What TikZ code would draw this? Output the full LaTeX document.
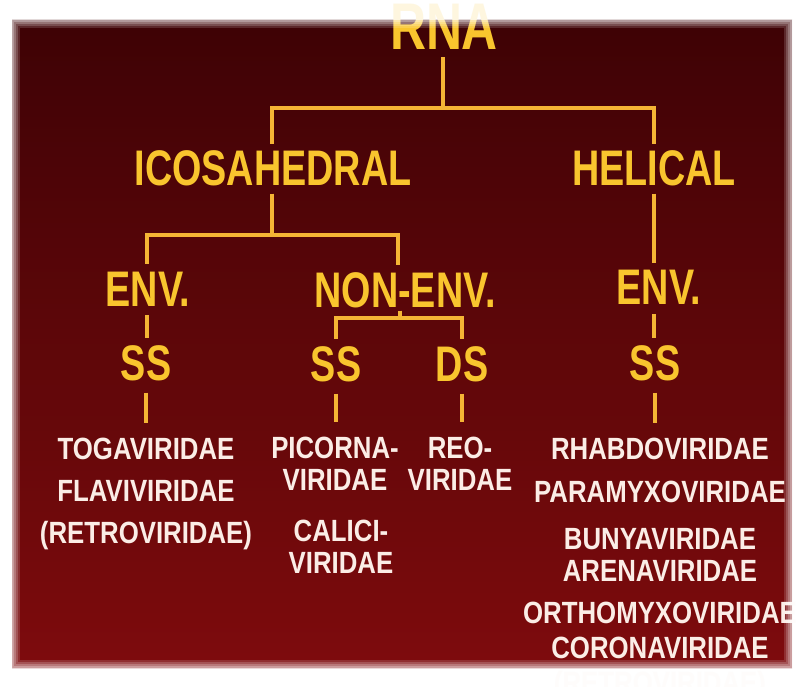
\documentclass[tikz,border=0pt]{standalone}
\usepackage{fontspec}
\newfontfamily\headfont{Liberation Sans}[FakeStretch=0.755]
\newfontfamily\famfont{Liberation Sans}[FakeStretch=0.84]
\usetikzlibrary{positioning,calc}
\definecolor{rna-bgtop}{HTML}{3E0205}
\definecolor{rna-bgbot}{HTML}{7E0B0D}
\definecolor{rna-yellow}{HTML}{F9C52E}
\definecolor{rna-line}{HTML}{F5B535}
\definecolor{rna-white}{HTML}{FBEDE6}

\begin{document}
\begin{tikzpicture}[
    x=1pt, y=-1pt,
    head/.style={font=\headfont\bfseries\fontsize{50}{60}\selectfont, text=rna-yellow, inner sep=0pt, anchor=base},
    fam/.style={font=\famfont\bfseries\fontsize{30.7}{42}\selectfont, text=rna-white, inner sep=0pt, anchor=north, align=center},
    famtight/.style={fam, font=\famfont\bfseries\fontsize{30.7}{32}\selectfont},
    link/.style={draw=rna-line, line width=3.4pt, shorten <=7pt, shorten >=7pt}
  ]
  \useasboundingbox (0,0) rectangle (798,687);
  \fill[white] (0,0) rectangle (798,687);
  \shade[top color=rna-bgtop, bottom color=rna-bgbot] (12,20) rectangle (792,668);

  % levels of the tree
  \node[head, font=\headfont\bfseries\fontsize{66}{72}\selectfont] (rna) at (444,50) {RNA};
  \node[head] (icosa)   at (273,186) {ICOSAHEDRAL};
  \node[head] (helical) at (654,186) {HELICAL};
  \node[head] (envl)    at (148,306) {ENV.};
  \node[head] (nonenv)  at (405,307) {NON-ENV.};
  \node[head] (envr)    at (659,305) {ENV.};
  \node[head] (ssl)     at (146,380) {SS};
  \node[head] (ssm)     at (336,381) {SS};
  \node[head] (dsm)     at (462,381) {DS};
  \node[head] (ssr)     at (655,380) {SS};

  % virus families
  \node[fam] (toga) at (146,438) {TOGAVIRIDAE\\FLAVIVIRIDAE\\(RETROVIRIDAE)};
  \node[famtight] (picorna) at (335,437) {PICORNA-\\VIRIDAE};
  \node[famtight] (reo)     at (460,437) {REO-\\VIRIDAE};
  \node[famtight] (calici)  at (341,520) {CALICI-\\VIRIDAE};
  \node[famtight] (rhabdo)  at (660,438) {RHABDOVIRIDAE\\[11pt]PARAMYXOVIRIDAE\\[15pt]BUNYAVIRIDAE\\ARENAVIRIDAE\\[10pt]ORTHOMYXOVIRIDAE\\[3pt]CORONAVIRIDAE\\[3pt](RETROVIRIDAE)};

  % connections
  \coordinate (lvl1) at (0,108);
  \coordinate (lvl2) at (0,235);
  \coordinate (lvl3) at (0,318);
  \draw[link] ([xshift=-1pt]rna.south) -- ([xshift=-1pt]rna.south |- lvl1) -| ([xshift=-1pt]icosa.north);
  \draw[link] ([xshift=-1pt]rna.south) -- ([xshift=-1pt]rna.south |- lvl1) -| (helical.north);
  \draw[link] ([xshift=-1pt]icosa.south) -- ([xshift=-1pt]icosa.south |- lvl2) -| ([xshift=-1pt]envl.north);
  \draw[link] ([xshift=-1pt]icosa.south) -- ([xshift=-1pt]icosa.south |- lvl2) -| ([xshift=-7pt]nonenv.north);
  \draw[link] (helical.south) -- (helical.south |- envr.north);
  \draw[link, shorten <=9pt] ([xshift=-1pt]envl.south) -- ([xshift=-1pt]envl.south |- ssl.north);
  \draw[link, shorten <=9pt] ([xshift=-5pt]envr.south) -- ([xshift=-5pt]envr.south |- ssr.north);
  \draw[link, shorten <=3pt] ([xshift=-5pt]nonenv.south) -- ([xshift=-5pt]nonenv.south |- lvl3) -| (ssm.north);
  \draw[link, shorten <=3pt] ([xshift=-5pt]nonenv.south) -- ([xshift=-5pt]nonenv.south |- lvl3) -| (dsm.north);
  \draw[link, shorten <=12pt, shorten >=15pt] (ssl.south) -- (ssl.south |- toga.north);
  \draw[link, shorten <=12pt, shorten >=15pt] (ssm.south) -- (ssm.south |- picorna.north);
  \draw[link, shorten <=12pt, shorten >=15pt] (dsm.south) -- (dsm.south |- reo.north);
  \draw[link, shorten <=12pt, shorten >=15pt] (ssr.south) -- (ssr.south |- rhabdo.north);

  % faded white frame
  \fill[white, opacity=0.85, even odd rule] (0,0) rectangle (798,687) (12,20) rectangle (792,668);
  \foreach \d/\o in {1/0.6, 3/0.45, 5/0.3, 7/0.15}
    \draw[white, opacity=\o, line width=2pt] (12+\d,20+\d) rectangle (792-\d,668-\d);
\end{tikzpicture}
\end{document}
